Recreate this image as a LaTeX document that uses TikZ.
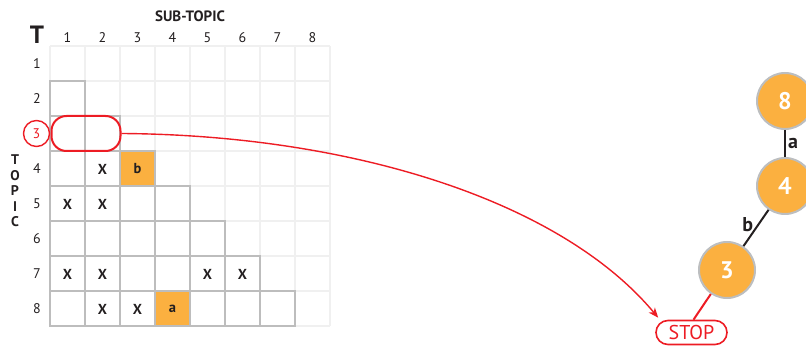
\documentclass[tikz,border=0pt]{standalone}
\usepackage{fontspec}
\setmainfont{PT Sans}
\usetikzlibrary{arrows.meta}
\definecolor{myred}{HTML}{ED1C24}
\definecolor{myorange}{HTML}{FBB040}
\definecolor{ringgray}{HTML}{BCBEC0}
\definecolor{lightline}{HTML}{F0F0F0}
\definecolor{darkline}{HTML}{BDBDBD}
\definecolor{ink}{HTML}{231F20}
\begin{document}
\begin{tikzpicture}[x=1pt,y=-1pt,
  lightgrid/.style={draw=lightline,line width=2pt},
  darkcell/.style={draw=darkline,line width=2pt},
  numlab/.style={text=ink,font=\fontsize{14}{16}\selectfont,inner sep=0pt},
  xmark/.style={text=ink,font=\bfseries\fontsize{14.5}{16}\selectfont,inner sep=0pt},
  orangecell/.style={fill=myorange},
  tnode/.style={circle,fill=myorange,draw=ringgray,line width=2pt,minimum size=56pt,inner sep=0pt,text=white,font=\bfseries\fontsize{24}{26}\selectfont},
  edgelab/.style={text=ink,font=\bfseries\fontsize{20}{22}\selectfont,inner sep=2pt},
  redline/.style={draw=myred,line width=1.4pt}
]
\useasboundingbox (0,0) rectangle (806,347);
% light full grid
\foreach \k in {0,...,8}{
  \draw[lightgrid] (50+35*\k,46.5) -- (50+35*\k,326.5);
  \draw[lightgrid] (50,46.5+35*\k) -- (330,46.5+35*\k);
}
% orange cells
\fill[orangecell] (120,151.5) rectangle (155,186.5);
\fill[orangecell] (155,291.5) rectangle (190,326.5);
% darker lower-triangle cells
\foreach \i in {2,...,8}{
  \pgfmathtruncatemacro{\last}{\i-1}
  \foreach \j in {1,...,\last}{
    \draw[darkcell] (50+35*\j-35,46.5+35*\i-35) rectangle (50+35*\j,46.5+35*\i);
  }
}
% headings
\node[text=ink,font=\bfseries\fontsize{15}{17}\selectfont] (subtopic) at (190,16.5) {SUB-TOPIC};
\node[text=ink,font=\bfseries\fontsize{25}{27}\selectfont,inner sep=0pt] (bigT) at (37,35) {T};
\node[text=ink,font=\bfseries\fontsize{14}{15.5}\selectfont,align=center,inner sep=0pt] (topic) at (15,191) {T\\O\\P\\I\\C};
% column numbers
\foreach \c in {1,...,8}{
  \node[numlab] (col\c) at (32.5+35*\c,37.5) {\c};
}
% row numbers
\foreach \r in {1,2,4,5,6,7,8}{
  \node[numlab] (row\r) at (37,29+35*\r) {\r};
}
% row 3 highlight
\node[circle,draw=myred,line width=1.4pt,minimum size=26pt,inner sep=0pt,text=myred,font=\fontsize{14}{16}\selectfont] (row3) at (36.5,133.5) {3};
\node[rectangle,draw=myred,line width=2pt,rounded corners=15pt,minimum width=69pt,minimum height=35pt,inner sep=0pt] (rr) at (86,133.5) {};
% cell marks
\node[xmark] (x42) at (102.5,169) {X};
\node[xmark] (b43) at (137.5,169) {b};
\node[xmark] (x51) at (67.5,204) {X};
\node[xmark] (x52) at (102.5,204) {X};
\node[xmark] (x71) at (67.5,274) {X};
\node[xmark] (x72) at (102.5,274) {X};
\node[xmark] (x75) at (207.5,274) {X};
\node[xmark] (x76) at (242.5,274) {X};
\node[xmark] (x82) at (102.5,309) {X};
\node[xmark] (x83) at (137.5,309) {X};
\node[xmark] (a84) at (172.5,309) {a};
% tree
\node[tnode] (n8) at (785,101) {8};
\node[tnode] (n4) at (785,186) {4};
\node[tnode] (n3) at (727,270) {3};
\node[rectangle,draw=myred,line width=1.6pt,rounded corners=12pt,minimum width=71pt,minimum height=24pt,inner sep=0pt,text=myred,font=\fontsize{20}{22}\selectfont] (stop) at (691.5,332.5) {STOP};
\draw[ink,line width=2pt] (n8) -- node[edgelab,right] {a} (n4);
\draw[ink,line width=2pt] (n4) -- node[edgelab,anchor=east,yshift=3pt] {b} (n3);
\draw[myred,line width=2pt] (n3) -- ([xshift=2pt]stop.north);
% connector
\draw[redline,-{Stealth[length=10pt,width=8pt,inset=3pt]}] (rr.east) .. controls (350,135) and (560,200) .. ([shift={(3,-2)}]stop.north west);
\end{tikzpicture}
\end{document}
